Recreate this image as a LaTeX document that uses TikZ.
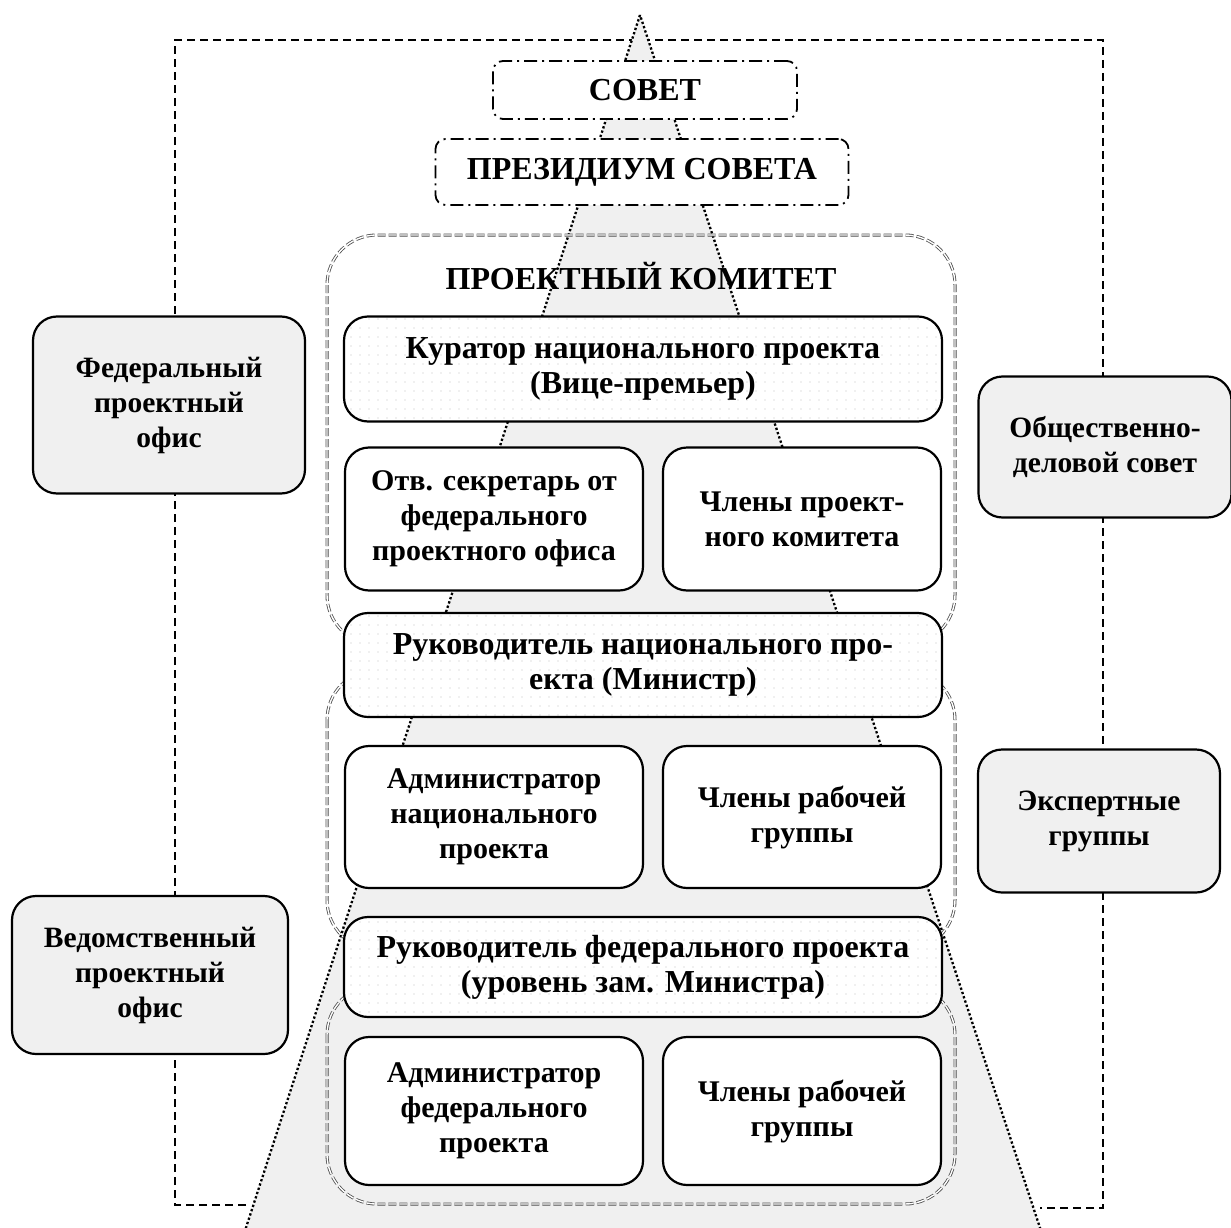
\documentclass[tikz,border=0pt]{standalone}
\usepackage{fontspec}
\setmainfont{Liberation Serif}
\usetikzlibrary{patterns.meta}

\begin{document}
\begin{tikzpicture}[x=1pt, y=-1pt,
		box/.style={draw, line width=2.2pt, rounded corners=24pt, align=center, inner sep=0pt, font=\bfseries\fontsize{32}{35}\selectfont},
		whitebox/.style={box, fill=white, font=\bfseries\fontsize{30}{35}\selectfont},
		sidebox/.style={box, fill=black!6, font=\bfseries\fontsize{29.5}{35}\selectfont},
		dotbox/.style={box, preaction={fill=white}, pattern={Dots[distance=9pt, radius=0.7pt]}, pattern color=black!25},
		topbox/.style={box, fill=white, line width=1.8pt, rounded corners=10pt, dash pattern=on 13pt off 5pt on 2pt off 5pt},
		group/.style={draw=black!70, double, double distance=1.4pt, line width=0.8pt, dash pattern=on 8pt off 3pt, rounded corners=50pt},
		frame/.style={line width=1.7pt, dash pattern=on 8pt off 5pt}]
			\useasboundingbox (0,0) rectangle (1231,1228);

			\draw [frame] (246,1205) -- (175,1205) -- (175,40) -- (1103,40) -- (1103,1208) -- (1040,1208);
			\draw [fill=black!6, line width=2.3pt, dash pattern=on 2.3pt off 2.2pt] (640,15) -- (242,1240) -- (1044,1240) -- cycle;

			\draw [group] (327,235) rectangle (955,645);
			\draw [group] (327,670) rectangle (955,950);
			\draw [group] (327,985) rectangle (955,1204);

			\node [topbox, minimum width=304pt, minimum height=58pt] (sovet) at (645,90) {СОВЕТ};
			\node [topbox, minimum width=413pt, minimum height=66pt] (prezidium) at (642,172) {ПРЕЗИДИУМ СОВЕТА};
			\node [font=\bfseries\fontsize{32}{35}\selectfont] (komitet) at (641,276) {ПРОЕКТНЫЙ КОМИТЕТ};

			\node [dotbox, minimum width=598pt, minimum height=105pt] (kurator) at (643,369) {Куратор национального проекта\\(Вице-премьер)};
			\node [whitebox, minimum width=298pt, minimum height=143pt] (sekretar) at (494,519) {Отв. секретарь от\\федерального\\проектного офиса};
			\node [whitebox, minimum width=278pt, minimum height=143pt] (chlenykom) at (802,519) {Члены проект-\\ного комитета};

			\node [dotbox, minimum width=598pt, minimum height=104pt] (rukNac) at (643,665) {Руководитель национального про-\\екта (Министр)};
			\node [whitebox, minimum width=298pt, minimum height=142pt] (adminNac) at (494,817) {Администратор\\национального\\проекта};
			\node [whitebox, minimum width=278pt, minimum height=142pt] (chlenyNac) at (802,817) {Члены рабочей\\группы};

			\node [dotbox, minimum width=598pt, minimum height=100pt] (rukFed) at (643,967) {Руководитель федерального проекта\\(уровень зам. Министра)};
			\node [whitebox, minimum width=298pt, minimum height=148pt] (adminFed) at (494,1111) {Администратор\\федерального\\проекта};
			\node [whitebox, minimum width=278pt, minimum height=148pt] (chlenyFed) at (802,1111) {Члены рабочей\\группы};

			\node [sidebox, minimum width=272pt, minimum height=177pt] (fedOfis) at (169,405) {Федеральный\\проектный\\офис};
			\node [sidebox, minimum width=253pt, minimum height=141pt] (sovetOD) at (1105,447) {Общественно-\\деловой совет};
			\node [sidebox, minimum width=242pt, minimum height=143pt] (eksperty) at (1099,821) {Экспертные\\группы};
			\node [sidebox, minimum width=276pt, minimum height=158pt] (vedOfis) at (150,975) {Ведомственный\\проектный\\офис};
		\end{tikzpicture}
\end{document}
